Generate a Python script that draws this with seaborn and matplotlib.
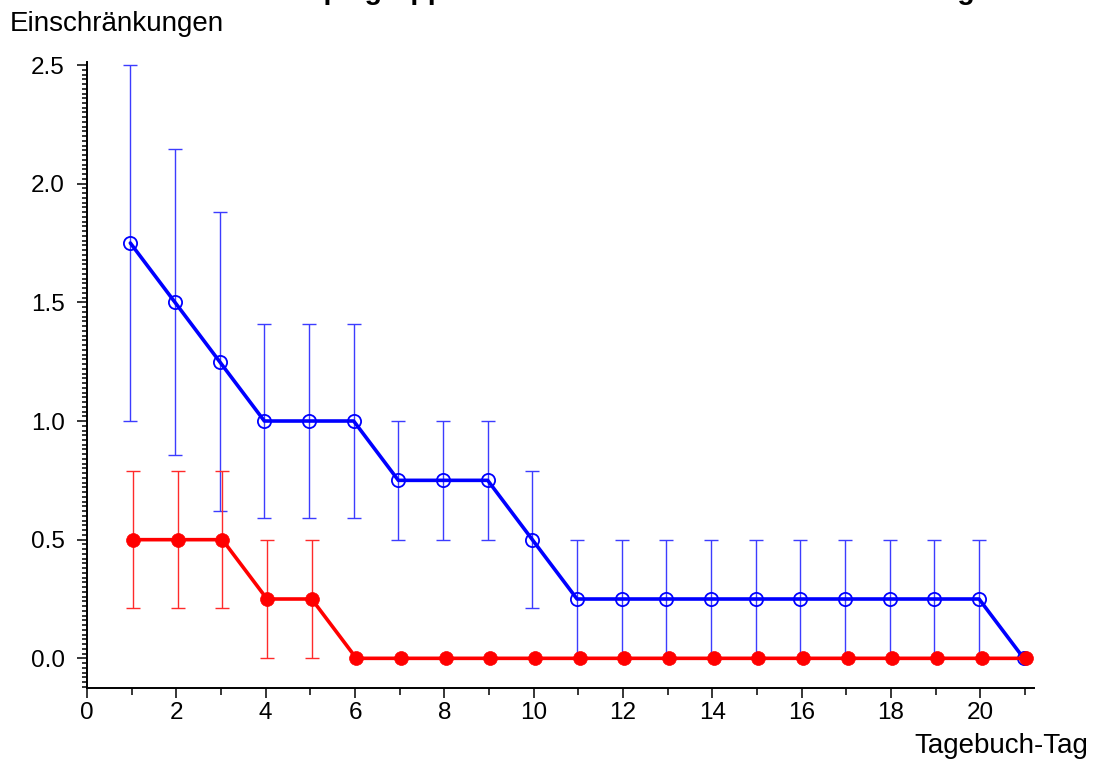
import numpy as np
import pandas as pd
import matplotlib
matplotlib.use("Agg")
import matplotlib.pyplot as plt
import seaborn as sns
from matplotlib.ticker import MultipleLocator, FormatStrFormatter

# Tagebuch-Tage und Mittelwerte / Standardabweichungen je Gruppe
tage = [1, 2, 3, 4, 5, 6, 7, 8, 9, 10, 11, 12, 13, 14, 15, 16, 17, 18, 19, 20, 21]
blau_mittel = [1.75, 1.50, 1.25, 1.00, 1.00, 1.00, 0.75, 0.75, 0.75, 0.50, 0.25,
               0.25, 0.25, 0.25, 0.25, 0.25, 0.25, 0.25, 0.25, 0.25, 0.00]
blau_sd = [0.75, 0.645, 0.63, 0.41, 0.41, 0.41, 0.25, 0.25, 0.25, 0.29, 0.25,
           0.25, 0.25, 0.25, 0.25, 0.25, 0.25, 0.25, 0.25, 0.25, 0.00]
rot_mittel = [0.50, 0.50, 0.50, 0.25, 0.25, 0.00, 0.00, 0.00, 0.00, 0.00, 0.00,
              0.00, 0.00, 0.00, 0.00, 0.00, 0.00, 0.00, 0.00, 0.00, 0.00]
rot_sd = [0.29, 0.29, 0.29, 0.25, 0.25, 0.00, 0.00, 0.00, 0.00, 0.00, 0.00,
          0.00, 0.00, 0.00, 0.00, 0.00, 0.00, 0.00, 0.00, 0.00, 0.00]

titel = "Therapiegruppe: Mittelwert mit SD der Einschränkungen"
y_label = "Einschränkungen"
x_label = "Tagebuch-Tag"

sns.set_style("white")
plt.rcParams["font.family"] = ["Liberation Sans", "DejaVu Sans"]
plt.rcParams["text.color"] = "black"
plt.rcParams["axes.labelcolor"] = "black"
plt.rcParams["xtick.color"] = "black"
plt.rcParams["ytick.color"] = "black"

BLAU = "#0000ff"
ROT = "#ff0000"

df = pd.DataFrame({
    "tag": np.array(tage, dtype=float),
    "blau": blau_mittel, "blau_sd": blau_sd,
    "rot": rot_mittel, "rot_sd": rot_sd,
})
# small horizontal dodge so the two groups' bars do not sit exactly on top of each other
df["x_blau"] = df["tag"] - 0.03
df["x_rot"] = df["tag"] + 0.03

fig = plt.figure(figsize=(11.01, 7.63), dpi=100)
W, H = 1101, 763
ax = fig.add_axes([87 / W, (H - 688) / H, (1034 - 87) / W, (688 - 61.7) / H])

# error bars (only where a spread exists)
for xcol, mcol, scol, ecol in [("x_blau", "blau", "blau_sd", "#3c3cff"),
                               ("x_rot", "rot", "rot_sd", "#ff2a2a")]:
    sub = df[df[scol] > 0]
    ax.errorbar(sub[xcol], sub[mcol], yerr=sub[scol], fmt="none",
                ecolor=ecol, elinewidth=1.0, capsize=5, capthick=1.0, zorder=2)

sns.lineplot(data=df, x="x_blau", y="blau", ax=ax, color=BLAU, lw=2.6,
             marker="o", ms=9.5, mfc="none", mec=BLAU, mew=1.3, zorder=3)
sns.lineplot(data=df, x="x_rot", y="rot", ax=ax, color=ROT, lw=2.6,
             marker="o", ms=10, mfc=ROT, mec=ROT, mew=0.5, zorder=4)

ax.set_xlim(0, 21.2)
ax.set_ylim(-0.125, 2.514)
ax.xaxis.set_major_locator(MultipleLocator(2))
ax.xaxis.set_minor_locator(MultipleLocator(1))
ax.yaxis.set_major_locator(MultipleLocator(0.5))
ax.yaxis.set_minor_locator(MultipleLocator(0.02))
ax.yaxis.set_major_formatter(FormatStrFormatter("%.1f"))

ax.set_xlabel("")
ax.set_ylabel("")
for s in ["top", "right"]:
    ax.spines[s].set_visible(False)
for s in ["left", "bottom"]:
    ax.spines[s].set_color("black")
    ax.spines[s].set_linewidth(1.4)

ax.tick_params(axis="both", which="both", direction="out", color="black",
               width=1.1, labelsize=17.5, labelcolor="black")
ax.tick_params(axis="y", which="major", length=7, pad=9, left=True)
ax.tick_params(axis="y", which="minor", length=3.6, left=True)
ax.tick_params(axis="x", which="major", length=7, pad=3, bottom=True)
ax.tick_params(axis="x", which="minor", length=5, bottom=True)

fig.text(10 / W, 1 - 31 / H, y_label, fontsize=20, ha="left", va="baseline",
         color="black")
fig.text(1088 / W, 1 - 753 / H, x_label, fontsize=20, ha="right", va="baseline",
         color="black")
# heading sits right at the top edge of the canvas
fig.text(246 / W, 1 + 1 / H, titel, fontsize=20.5, fontweight="bold",
         ha="left", va="baseline", color="black")

fig.savefig("out.png", dpi=100)
